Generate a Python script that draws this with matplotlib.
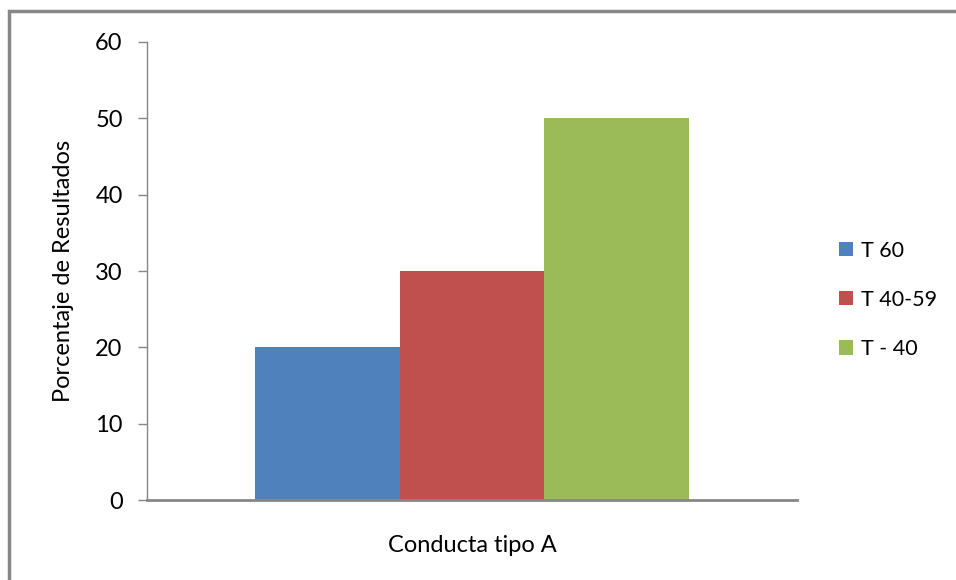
import matplotlib.pyplot as plt
import matplotlib.patches as mpatches

plt.rcParams['font.family'] = ['Lato', 'DejaVu Sans']

category = 'Conducta tipo A'
series = ['T 60', 'T 40-59', 'T - 40']
values = [20, 30, 50]
colors = ['#4f81bd', '#c0504d', '#9bbb59']

fig = plt.figure(figsize=(9.56, 5.8), dpi=100)
ax = fig.add_axes([0.1538, 0.1379, 0.68, 0.7897])

# outer frame (cut off on right and bottom like the screenshot)
fig.patches.append(mpatches.Rectangle((9 / 956, -0.1), 1.2, 1 - 11 / 580 + 0.1,
                                      transform=fig.transFigure, fill=False,
                                      edgecolor='#878787', lw=2.5))

width = 0.2222
offsets = [-width, 0, width]
for name, v, c, off in zip(series, values, colors, offsets):
    ax.bar(off, v, width=width, color=c, label=name)

ax.set_xlim(-0.5, 0.5)
ax.set_ylim(0, 60)
ax.set_yticks(range(0, 61, 10))
ax.set_xticks([])
ax.set_xlabel(category, fontsize=17, labelpad=25)
ax.set_ylabel('Porcentaje de Resultados', fontsize=17, labelpad=15)

for s in ['top', 'right']:
    ax.spines[s].set_visible(False)
ax.spines['left'].set_color('#868686')
ax.spines['left'].set_linewidth(1)
ax.spines['bottom'].set_color('#868686')
ax.spines['bottom'].set_linewidth(2)
ax.tick_params(axis='y', length=6.5, width=1, color='#868686', labelsize=17, pad=11)

leg = ax.legend(loc='center left', bbox_to_anchor=(1.035, 0.437), frameon=False,
                fontsize=15.5, handlelength=0.65, handleheight=0.65,
                handletextpad=0.35, labelspacing=1.35)

fig.savefig('out.png', dpi=100)
